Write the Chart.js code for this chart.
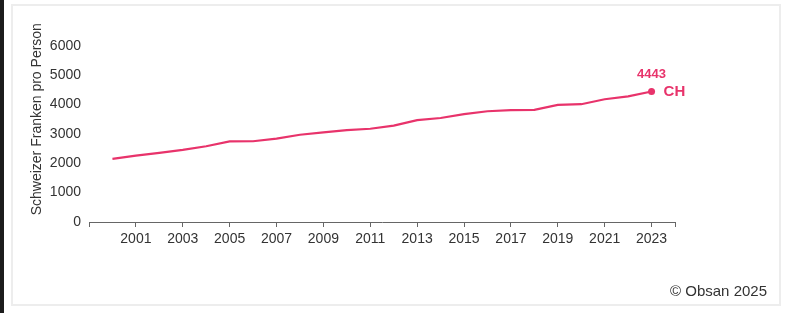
<!DOCTYPE html>
<html>
<head>
<meta charset="utf-8">
<script src="https://cdn.jsdelivr.net/npm/chart.js@4"></script>
<style>
  html, body { margin: 0; padding: 0; background: #fff; }
  body { width: 789px; height: 313px; position: relative; overflow: hidden; font-family: "Liberation Sans", Arial, sans-serif; }
  #strip { position: absolute; left: 0; top: 0; width: 4px; height: 313px; background: #1c1c1c; }
  #panel { position: absolute; left: 11px; top: 4px; width: 766px; height: 298px; border: 2px solid #ededed; }
  #chart { position: absolute; left: 0; top: 0; }
  #source { position: absolute; right: 22px; top: 282px; font-size: 15px; line-height: 17px; color: #333; }
</style>
</head>
<body>
<div id="strip"></div>
<div id="panel"></div>
<canvas id="chart" width="789" height="313"></canvas>
<div id="source">© Obsan 2025</div>
<script>
const years = [2000, 2001, 2002, 2003, 2004, 2005, 2006, 2007, 2008, 2009, 2010, 2011,
               2012, 2013, 2014, 2015, 2016, 2017, 2018, 2019, 2020, 2021, 2022, 2023];
const costs = [2150, 2260, 2355, 2455, 2580, 2745, 2750, 2840, 2970, 3050, 3130, 3175,
               3280, 3470, 3540, 3670, 3770, 3810, 3820, 3990, 4010, 4180, 4280, 4443];
const seriesName = 'CH';
const xTickYears = [2001, 2003, 2005, 2007, 2009, 2011, 2013, 2015, 2017, 2019, 2021, 2023];
const yTicks = [0, 1000, 2000, 3000, 4000, 5000, 6000];
const yTitle = 'Schweizer Franken pro Person';

const lineColor = '#e8336b';
const fontFamily = '"Liberation Sans", Arial, sans-serif';
const last = costs.length - 1;

// value above the last point and series name to its right
const endLabel = {
  id: 'endLabel',
  afterDatasetsDraw(chart) {
    const pt = chart.getDatasetMeta(0).data[last];
    const c = chart.ctx;
    c.save();
    c.fillStyle = lineColor;
    c.textBaseline = 'middle';
    c.textAlign = 'center';
    c.font = 'bold 13px ' + fontFamily;
    c.fillText(String(costs[last]), pt.x, pt.y - 17);
    c.textAlign = 'left';
    c.font = 'bold 15px ' + fontFamily;
    c.fillText(seriesName, pt.x + 12, pt.y);
    c.restore();
  }
};

new Chart(document.getElementById('chart'), {
  type: 'line',
  data: {
    datasets: [{
      label: seriesName,
      data: years.map((y, i) => ({ x: y, y: costs[i] })),
      borderColor: lineColor,
      backgroundColor: lineColor,
      borderWidth: 2.2,
      tension: 0,
      pointRadius: c => c.dataIndex === last ? 3.5 : 0,
      pointBorderWidth: 0
    }]
  },
  options: {
    responsive: false,
    animation: false,
    events: [],
    layout: { padding: { left: 29, right: 114, top: 15, bottom: 0 } },
    plugins: {
      legend: { display: false },
      tooltip: { enabled: false }
    },
    scales: {
      x: {
        type: 'linear',
        min: 1999,
        max: 2024,
        afterBuildTicks: axis => {
          axis.ticks = [1999, ...xTickYears, 2024].map(v => ({ value: v }));
        },
        afterFit: axis => { axis.height = 91; },
        ticks: {
          autoSkip: false,
          maxRotation: 0,
          padding: 4,
          color: '#333',
          font: { family: fontFamily, size: 14 },
          callback: v => xTickYears.includes(v) ? String(v) : ''
        },
        grid: { drawOnChartArea: false, tickLength: 5, color: '#666' },
        border: { display: true, color: '#666', width: 1 }
      },
      y: {
        min: 0,
        max: 7000,
        afterBuildTicks: axis => {
          axis.ticks = yTicks.map(v => ({ value: v }));
        },
        afterFit: axis => { axis.width = 60; },
        ticks: {
          padding: 8,
          color: '#333',
          font: { family: fontFamily, size: 14 },
          callback: v => String(v)
        },
        grid: { display: false, drawTicks: false },
        border: { display: false },
        title: {
          display: true,
          text: yTitle,
          color: '#333',
          padding: 0,
          font: { family: fontFamily, size: 14 }
        }
      }
    }
  },
  plugins: [endLabel]
});
</script>
</body>
</html>
